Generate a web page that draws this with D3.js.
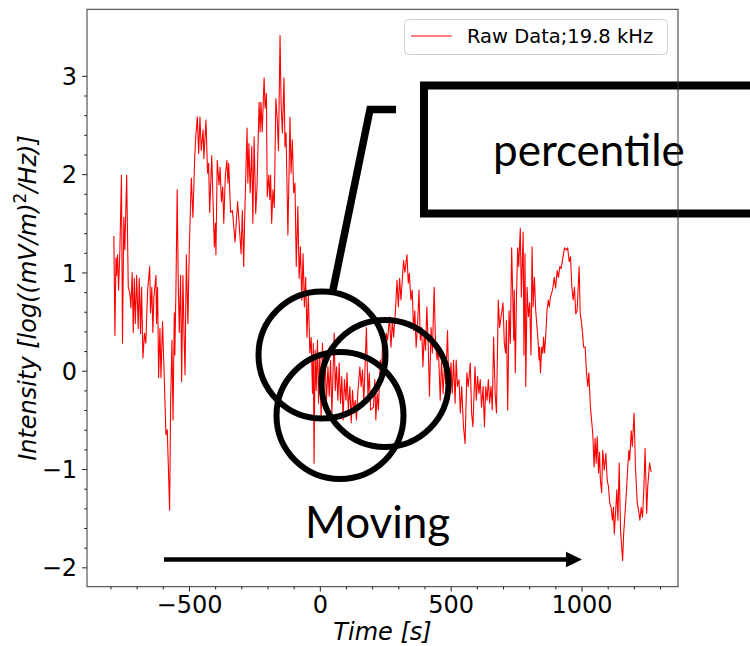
<!DOCTYPE html>
<html>
<head>
<meta charset="utf-8">
<script src="https://cdn.jsdelivr.net/npm/d3@7"></script>
<style>
  html, body { margin: 0; padding: 0; background: #ffffff; }
  svg { display: block; }
</style>
</head>
<body>
<svg id="chart" width="750" height="646"></svg>
<script>
// ---------------- DATA ----------------
const time = [
  -787, -783, -779, -777, -773, -769, -764, -758, -754, -749,
  -745, -738, -732, -726, -722, -717, -713, -709, -705, -700,
  -694, -690, -685, -681, -676, -670, -665, -658, -650, -647,
  -642, -638, -634, -626, -624, -620, -616, -611, -607, -601,
  -593, -588, -583, -579, -574, -570, -565, -561, -556, -554,
  -550, -545, -541, -537, -532, -528, -523, -519, -515, -510,
  -504, -499, -491, -485, -478, -474, -468, -463, -458, -453,
  -446, -443, -435, -429, -425, -421, -413, -403, -399, -397,
  -392, -385, -381, -376, -371, -367, -361, -355, -351, -348,
  -341, -334, -324,
  -314, -309, -301, -296, -291, -286, -278, -275, -271, -266,
  -260, -256, -251, -245, -240, -232, -228, -225, -220, -213,
  -209, -204, -201, -195, -191, -188, -184, -179, -174, -168,
  -163, -158, -152, -148, -143, -137, -133, -129, -122, -117,
  -114, -110, -105, -100, -95, -90, -84, -79, -74, -69,
  -64, -59, -54, -49, -44, -38, -33, -28, -25, -22,
  -18, -14, -9, -5, 0, 5, 10, 15, 20, 25,
  31, 36, 41, 46, 55, 59, 64, 69, 74, 79,
  84, 89, 94, 100, 104, 109, 115, 120, 125, 130,
  135, 140, 145, 153, 158, 163, 168, 178, 184, 189,
  194,
  205, 210, 214, 219, 224, 231, 236, 241, 246, 254,
  259, 266, 272, 277, 282, 289, 295, 300, 305, 310,
  315, 320, 325, 333, 338, 342, 348, 353, 358, 363,
  368, 373, 379, 384, 389, 394, 399, 404, 409, 414,
  419, 425, 430, 437, 442, 448, 453, 460, 465, 471,
  476, 481, 488, 494, 501, 506, 511, 517, 521, 526,
  532, 537, 542, 549, 555, 562, 567, 575, 580, 585,
  593, 598, 603, 608, 613, 618, 624, 629, 634, 639,
  644, 649, 654, 659, 664, 670, 675, 682, 687,
  700, 705, 710, 713, 718, 723, 728, 733, 737, 741,
  743, 747, 751, 756, 760, 766, 770, 777, 780, 784,
  787, 792, 797, 802, 807, 811, 815, 820, 825, 833,
  838, 840, 843, 848, 852, 855, 859, 865, 868, 873,
  877, 881, 886, 891, 896, 901, 907, 912, 917, 922,
  927, 935, 942, 947, 953, 958, 963, 968, 973, 978,
  983, 991, 995, 999, 1004, 1008, 1014, 1019, 1024, 1028,
  1034,
  1043, 1048, 1052, 1056, 1060, 1065, 1069, 1072, 1077, 1081,
  1087, 1093, 1098, 1103, 1108, 1113, 1118, 1122, 1125, 1130,
  1135, 1139, 1144, 1149, 1157, 1161, 1167, 1172, 1176, 1181,
  1184, 1190, 1194, 1201, 1206, 1213, 1218, 1223, 1228, 1233,
  1238, 1243, 1249, 1253, 1260, 1266
];

const intensity = [
  1.37, 0.36, 1.15, 0.97, 1.18, 0.82, 1.23, 1.99, 0.28, 1.56,
  1.23, 1.99, 0.85, 0.79, 0.64, 1.00, 0.39, 0.94, 0.48, 0.97,
  0.43, 0.94, 0.38, 0.85, 0.13, 0.38, 0.28, 0.82, 1.06, 0.59,
  0.85, 0.39, 0.75, 0.97, 0.48, 0.85, -0.07, 0.43, -0.07, 0.50,
  -0.20, -0.65, -0.60, -0.96, -1.42, -0.32, 0.31, -0.50, 0.59, 0.16,
  0.79, 1.84, 0.89, 0.39, 0.97, -0.11, 0.97, 0.38, -0.04, 1.18,
  0.48, 1.23, 1.96, 1.56, 2.17, 2.38, 2.58, 2.21, 2.58, 2.24,
  2.45, 2.16, 2.55, 2.01, 2.11, 1.61, 2.19, 1.26, 1.50, 1.18,
  2.14, 1.89, 2.07, 1.72, 1.87, 1.50, 1.99, 2.14, 1.91, 2.11,
  1.61, 1.63, 1.31,
  1.72, 1.53, 1.19, 1.63, 1.06, 1.68, 2.47, 1.91, 2.31, 1.81,
  2.28, 1.50, 2.38, 1.60, 1.87, 2.73, 2.43, 2.73, 2.43, 2.98,
  2.67, 2.82, 1.77, 1.99, 1.74, 1.99, 1.50, 1.84, 1.66, 2.77,
  2.57, 2.24, 3.41, 2.72, 2.42, 2.98, 2.28, 2.42, 1.38, 2.11,
  2.58, 2.01, 2.35, 1.81, 1.91, 1.06, 1.67, 0.94, 1.26, 0.72,
  1.19, 0.65, 0.95, 0.34, 0.77, 0.18, 0.34, -0.23, 0.28, -0.94,
  0.21, -0.20, 0.31, -0.33, 0.18, -0.50, 0.28, -0.16, 0.18, -0.33,
  0.04, -0.26, 0.11, -0.43, 0.38, -0.20, 0.04, -0.30, 0.08, -0.33,
  -0.06, -0.50, -0.09, -0.30, -0.02, -0.40, -0.16, -0.53, -0.20, -0.43,
  -0.30, -0.50, -0.23, 0.04, -0.16, 0.01, -0.33, 0.44, -0.26, -0.02,
  -0.40,
  -0.37, -0.09, -0.50, -0.23, -0.40, 0.11, -0.02, 0.38, 0.14, 0.38,
  0.31, 0.55, 0.24, 0.51, 0.34, 0.61, 0.92, 0.65, 0.94, 0.72,
  0.92, 1.12, 1.00, 1.18, 0.89, 0.99, 0.72, 0.82, 0.41, 0.61,
  0.24, 0.44, 0.82, 0.31, 0.44, 0.04, 0.38, 0.21, 0.65, 0.28,
  -0.26, 0.44, 0.18, 0.85, 0.28, 0.11, 0.24, -0.30, 0.11, -0.23,
  0.04, -0.13, 0.41, -0.30, 0.08, -0.23, 0.11, -0.33, 0.11, -0.16,
  -0.09, -0.43, -0.16, -0.57, -0.74, -0.02, -0.16, 0.08, -0.43, -0.57,
  0.04, -0.30, -0.06, -0.23, -0.09, -0.37, -0.16, -0.57, -0.16, -0.30,
  -0.09, -0.33, -0.16, -0.40, 0.34, -0.23, -0.43, 0.72, 0.44,
  0.69, 0.28, 0.18, 0.51, -0.40, 0.61, 0.28, 1.25, 0.79, 0.31,
  0.82, -0.02, 0.69, 1.25, 1.06, 1.45, 0.75, 1.41, 0.16, 1.19,
  -0.16, 0.85, 0.55, 0.69, 0.16, 1.26, 0.65, 0.95, 0.61, 0.34,
  0.11, 0.24, -0.02, 0.24, 0.18, 0.34, 0.18, 0.44, 0.61, 0.72,
  0.65, 0.75, 0.79, 0.85, 0.95, 0.84, 1.02, 0.95, 1.06, 1.04,
  1.12, 1.25, 1.23, 1.25, 1.11, 1.16, 0.85, 0.72, 0.85, 0.58,
  0.61, 1.06, 0.58, 0.51, 0.38, 0.24, 0.24, -0.02, -0.16, -0.02,
  -0.37,
  -0.64, -0.98, -0.69, -0.94, -0.67, -1.04, -0.83, -1.11, -1.24, -0.81,
  -1.01, -0.84, -1.11, -1.18, -1.35, -1.39, -1.52, -1.39, -1.66, -1.45,
  -1.21, -1.52, -0.94, -1.62, -1.93, -1.66, -1.42, -1.21, -1.01, -0.81,
  -0.91, -0.61, -0.77, -0.43, -0.98, -1.35, -1.42, -1.52, -1.39, -1.49,
  -1.21, -0.79, -1.45, -1.18, -0.94, -1.03
];

const xTickValues = [-500, 0, 500, 1000];
const yTickValues = [-2, -1, 0, 1, 2, 3];
const seriesLabel = "Raw Data;19.8 kHz";
const xLabel = "Time [s]";
const boxText = "percentile";
const movingText = "Moving";

// ---------------- LAYOUT ----------------
const plot = { left: 87, right: 678, top: 9.3, bottom: 586.7 };
const axisFont = "'DejaVu Sans', sans-serif";
const noteFont = "Lato, 'Open Sans', sans-serif";

const svg = d3.select("#chart");

function padded(ext) {
  const m = (ext[1] - ext[0]) * 0.05;
  return [ext[0] - m, ext[1] + m];
}

const x = d3.scaleLinear().domain(padded(d3.extent(time))).range([plot.left, plot.right]);
const y = d3.scaleLinear().domain(padded(d3.extent(intensity))).range([plot.bottom, plot.top]);

const fmt = d => (d < 0 ? "\u2212" + Math.abs(d) : String(d));

// clip
svg.append("defs").append("clipPath").attr("id", "clip")
  .append("rect")
  .attr("x", plot.left).attr("y", plot.top)
  .attr("width", plot.right - plot.left).attr("height", plot.bottom - plot.top);

// minor ticks
const xd = x.domain(), yd = y.domain();
const xMinor = d3.range(-2000, 2001, 100).filter(v => v >= xd[0] && v <= xd[1] && !xTickValues.includes(v));
const yMinor = d3.range(-30, 31, 2).map(v => v / 10).filter(v => v >= yd[0] && v <= yd[1] && !yTickValues.some(t => Math.abs(t - v) < 1e-9));

const xAxisMinor = d3.axisBottom(x).tickValues(xMinor).tickSize(2.8).tickFormat("");
const yAxisMinor = d3.axisLeft(y).tickValues(yMinor).tickSize(2.8).tickFormat("");

const gxm = svg.append("g").attr("transform", `translate(0,${plot.bottom})`).call(xAxisMinor);
const gym = svg.append("g").attr("transform", `translate(${plot.left},0)`).call(yAxisMinor);
[gxm, gym].forEach(g => {
  g.select(".domain").remove();
  g.selectAll(".tick line").attr("stroke", "#222").attr("stroke-width", 1);
});

const xAxis = d3.axisBottom(x).tickValues(xTickValues).tickSize(4.9).tickPadding(4.5).tickFormat(fmt);
const yAxis = d3.axisLeft(y).tickValues(yTickValues).tickSize(4.9).tickPadding(5).tickFormat(fmt);

const gx = svg.append("g").attr("transform", `translate(0,${plot.bottom})`).call(xAxis);
const gy = svg.append("g").attr("transform", `translate(${plot.left},0)`).call(yAxis);
[gx, gy].forEach(g => {
  g.select(".domain").remove();
  g.selectAll(".tick line").attr("stroke", "#222").attr("stroke-width", 1);
  g.selectAll(".tick text").attr("fill", "#000").style("font-family", axisFont).style("font-size", "24px");
});
gy.selectAll(".tick text").attr("dy", "0.36em");

// data line
const line = d3.line().x((d, i) => x(time[i])).y(d => y(d));
svg.append("g").attr("clip-path", "url(#clip)")
  .append("path")
  .datum(intensity)
  .attr("d", line)
  .attr("fill", "none")
  .attr("stroke", "#ff0000")
  .attr("stroke-width", 1.1)
  .attr("stroke-linejoin", "round");

// axis labels
svg.append("text")
  .attr("x", (plot.left + plot.right) / 2)
  .attr("y", 640)
  .attr("text-anchor", "middle")
  .style("font-family", axisFont)
  .style("font-size", "24px")
  .style("font-style", "italic")
  .text(xLabel);

const yl = svg.append("text")
  .attr("transform", `translate(36,${(plot.top + plot.bottom) / 2}) rotate(-90)`)
  .attr("text-anchor", "middle")
  .style("font-family", axisFont)
  .style("font-size", "24px");
yl.append("tspan").style("font-style", "italic").text("Intensity [log((mV/m)");
yl.append("tspan").attr("baseline-shift", "super").style("font-size", "17px").text("2");
yl.append("tspan").style("font-style", "italic").text("/Hz)]");

// legend
const lg = svg.append("g");
lg.append("rect")
  .attr("x", 404.5).attr("y", 19.5).attr("width", 263).attr("height", 35).attr("rx", 4)
  .attr("fill", "#fff").attr("fill-opacity", 0.8)
  .attr("stroke", "#cccccc").attr("stroke-width", 1);
lg.append("line")
  .attr("x1", 411).attr("x2", 452).attr("y1", 36).attr("y2", 36)
  .attr("stroke", "#ff0000").attr("stroke-width", 1);
lg.append("text")
  .attr("x", 467).attr("y", 43)
  .style("font-family", axisFont).style("font-size", "19.5px")
  .text(seriesLabel);

// annotations
const ann = svg.append("g");
ann.append("rect")
  .attr("x", 424).attr("y", 85.5).attr("width", 400).attr("height", 128)
  .attr("fill", "none").attr("stroke", "#000").attr("stroke-width", 8);
ann.append("text")
  .attr("x", 493).attr("y", 166)
  .style("font-family", noteFont).style("font-size", "44px")
  .text(boxText);
ann.append("path")
  .attr("d", "M396,109.5 L370,109.5 L333,290")
  .attr("fill", "none").attr("stroke", "#000").attr("stroke-width", 7.5)
  .attr("stroke-linejoin", "miter");
[[322, 355], [385, 383.5], [340, 415.5]].forEach(c => {
  ann.append("circle")
    .attr("cx", c[0]).attr("cy", c[1]).attr("r", 63.5)
    .attr("fill", "none").attr("stroke", "#000").attr("stroke-width", 6);
});
ann.append("text")
  .attr("x", 305).attr("y", 538)
  .style("font-family", noteFont).style("font-size", "44px")
  .text(movingText);
ann.append("line")
  .attr("x1", 164).attr("x2", 568).attr("y1", 559.5).attr("y2", 559.5)
  .attr("stroke", "#000").attr("stroke-width", 4.5);
ann.append("path")
  .attr("d", "M566,551.7 L582,559.5 L566,567.3 Z")
  .attr("fill", "#000");

// frame (on top)
svg.append("rect")
  .attr("x", plot.left).attr("y", plot.top)
  .attr("width", plot.right - plot.left).attr("height", plot.bottom - plot.top)
  .attr("fill", "none").attr("stroke", "#333").attr("stroke-width", 1);
</script>
</body>
</html>
